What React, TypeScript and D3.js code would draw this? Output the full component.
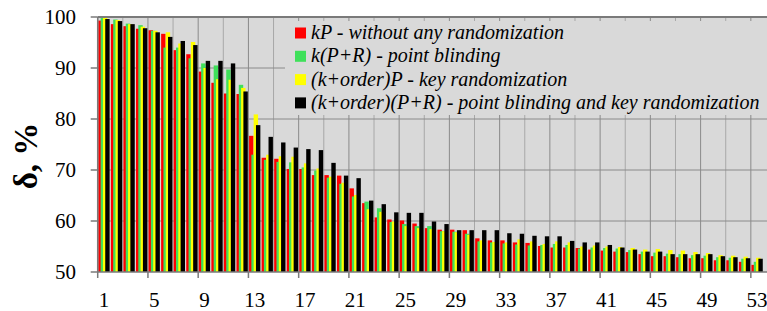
import { useEffect, useRef } from "react";
import * as d3 from "d3";

// values, one entry per group 1..53
const groups = d3.range(1, 54);
const seriesNames = [
  "kP - without any randomization",
  "k(P+R) - point blinding",
  "(k+order)P - key randomization",
  "(k+order)(P+R) - point blinding and key randomization",
];
const seriesColors = ["#ff0000", "#3fe05a", "#ffff00", "#000000"];

const kP = [
  99.3, 98.6, 98.2, 97.7, 97.4, 96.7, 93.5, 92.7, 89.3, 87.1, 85.0, 84.9, 76.7,
  72.4, 72.2, 70.2, 70.2, 69.0, 69.0, 68.9, 66.4, 63.5, 60.7, 60.3, 60.1, 59.5,
  58.6, 58.3, 58.3, 58.2, 56.6, 56.2, 56.2, 55.8, 55.7, 55.1, 54.8, 54.8, 54.7,
  54.4, 54.2, 54.0, 53.9, 53.5, 53.1, 53.1, 52.9, 52.7, 52.7, 52.3, 52.3, 52.0,
  51.4,
];
const kPR = [
  99.8, 99.5, 98.7, 98.4, 97.3, 94.0, 94.0, 91.9, 90.9, 90.5, 89.7, 86.7, 73.0,
  72.0, 71.6, 71.5, 70.5, 69.9, 68.5, 67.3, 64.8, 63.8, 62.5, 59.8, 59.4, 59.0,
  59.0, 58.0, 57.9, 57.5, 56.0, 55.8, 55.6, 55.4, 55.2, 55.3, 55.5, 55.3, 54.6,
  54.8, 54.7, 54.6, 54.3, 54.0, 53.8, 53.6, 53.5, 53.3, 53.2, 52.9, 52.8, 52.6,
  52.0,
];
const kOrderP = [
  99.8, 99.4, 98.6, 98.1, 97.3, 97.0, 94.8, 95.1, 90.0, 87.8, 87.7, 86.1, 80.9,
  73.0, 72.7, 72.6, 71.3, 70.3, 68.7, 67.5, 65.1, 62.3, 61.8, 59.9, 59.0, 58.6,
  58.4, 58.0, 57.8, 57.3, 56.2, 55.9, 55.8, 56.4, 56.0, 55.5, 56.0, 55.8, 55.0,
  55.2, 55.0, 54.9, 54.7, 54.4, 54.5, 54.3, 54.2, 53.9, 53.7, 53.3, 53.2, 53.0,
  52.8,
];
const kOrderPR = [
  99.6, 99.2, 98.6, 97.8, 97.0, 96.1, 95.3, 94.5, 91.4, 91.4, 90.9, 85.4, 78.8,
  76.5, 75.4, 74.4, 74.1, 73.9, 71.4, 68.9, 68.4, 64.0, 63.3, 61.7, 61.6, 61.6,
  59.9, 59.4, 58.2, 58.2, 58.2, 58.2, 57.6, 57.5, 57.1, 57.0, 57.0, 56.1, 55.8,
  55.8, 55.3, 54.8, 54.4, 54.0, 54.0, 53.5, 53.5, 53.5, 53.5, 53.1, 52.9, 52.7,
  52.6,
];
const series = [kP, kPR, kOrderP, kOrderPR];

const yTicks = [50, 60, 70, 80, 90, 100];
const xTickLabels = d3.range(1, 54, 4);

const serif = "'Liberation Serif', 'Times New Roman', Times, 'DejaVu Serif', serif";

export default function App() {
  const ref = useRef<SVGSVGElement>(null);

  useEffect(() => {
    const svg = d3.select(ref.current);
    svg.selectAll("*").remove();

    const left = 97.7;
    const right = 763.4;
    const top = 17;
    const bottom = 272;

    const x = d3.scaleBand<number>().domain(groups).range([left, right]).padding(0);
    const y = d3.scaleLinear().domain([50, 100]).range([bottom, top]);
    const step = x.step();
    const barW = step * 0.35;
    const sub = d3.scaleLinear().domain([0, 3]).range([step * 0.05, step * 0.6]);

    svg.append("rect")
      .attr("x", left).attr("y", top)
      .attr("width", 767 - left).attr("height", bottom - top)
      .attr("fill", "#d9d9d9");

    // vertical grid every 2 groups, darker every 4
    const vLines = d3.range(0, 55, 2);
    svg.append("g").selectAll("line")
      .data(vLines)
      .join("line")
      .attr("x1", (d) => left + d * step)
      .attr("x2", (d) => left + d * step)
      .attr("y1", top).attr("y2", bottom)
      .attr("stroke", (d) => (d % 4 === 0 ? "#8a8a8a" : "#a8a8a8"))
      .attr("stroke-width", 1);

    svg.append("g").selectAll("line")
      .data(yTicks.slice(1, -1))
      .join("line")
      .attr("x1", left).attr("x2", 767)
      .attr("y1", (d) => y(d)).attr("y2", (d) => y(d))
      .attr("stroke", "#8a8a8a");

    // bars, drawn red -> black so that later series overlap earlier ones
    series.forEach((vals, i) => {
      svg.append("g").selectAll("rect")
        .data(vals)
        .join("rect")
        .attr("x", (d, j) => (x(groups[j]) as number) + sub(i))
        .attr("width", barW)
        .attr("y", (d) => y(d))
        .attr("height", (d) => bottom - y(d))
        .attr("fill", seriesColors[i]);
    });

    // legend box
    const lg = svg.append("g");
    lg.append("rect")
      .attr("x", 285).attr("y", 21)
      .attr("width", 767 - 285).attr("height", 94)
      .attr("fill", "#d9d9d9");
    seriesNames.forEach((name, i) => {
      const cy = 33 + i * 23.3;
      lg.append("rect")
        .attr("x", 295).attr("y", cy - 5.5)
        .attr("width", 11).attr("height", 11)
        .attr("fill", seriesColors[i]);
      lg.append("text")
        .attr("x", 311).attr("y", cy + 6)
        .style("font-family", serif)
        .style("font-style", "italic")
        .style("font-size", "20px")
        .attr("fill", "#000")
        .text(name);
    });

    // axes frame
    svg.append("line")
      .attr("x1", left).attr("x2", 767).attr("y1", top).attr("y2", top)
      .attr("stroke", "#7a7a7a").attr("stroke-width", 2);
    svg.append("line")
      .attr("x1", left).attr("x2", left).attr("y1", top).attr("y2", bottom)
      .attr("stroke", "#7a7a7a").attr("stroke-width", 1.5);
    svg.append("line")
      .attr("x1", left).attr("x2", 767).attr("y1", bottom).attr("y2", bottom)
      .attr("stroke", "#7a7a7a").attr("stroke-width", 1.5);

    // y ticks + labels
    const yg = svg.append("g");
    yg.selectAll("line")
      .data(yTicks)
      .join("line")
      .attr("x1", left - 7).attr("x2", left)
      .attr("y1", (d) => y(d)).attr("y2", (d) => y(d))
      .attr("stroke", "#7a7a7a").attr("stroke-width", 1.5);
    yg.selectAll("text")
      .data(yTicks)
      .join("text")
      .attr("x", 76)
      .attr("y", (d) => y(d) + 7)
      .attr("text-anchor", "end")
      .style("font-family", serif)
      .style("font-size", "21px")
      .text((d) => d);

    // x ticks + labels
    const xg = svg.append("g");
    xg.selectAll("line")
      .data(xTickLabels)
      .join("line")
      .attr("x1", (d) => x(d) as number).attr("x2", (d) => x(d) as number)
      .attr("y1", bottom).attr("y2", bottom + 6)
      .attr("stroke", "#7a7a7a").attr("stroke-width", 1.5);
    xg.selectAll("text")
      .data(xTickLabels)
      .join("text")
      .attr("x", (d) => (x(d) as number) + step / 2)
      .attr("y", 307)
      .attr("text-anchor", "middle")
      .style("font-family", serif)
      .style("font-size", "21px")
      .text((d) => d);

    svg.append("text")
      .attr("transform", "translate(37,156) rotate(-90)")
      .attr("text-anchor", "middle")
      .style("font-family", serif)
      .style("font-weight", "bold")
      .style("font-size", "33px")
      .text("δ, %");
  }, []);

  return (
    <div style={{ position: "absolute", left: 0, top: 0 }}>
      <svg ref={ref} width={767} height={311} style={{ display: "block", background: "#fff" }}></svg>
    </div>
  );
}
